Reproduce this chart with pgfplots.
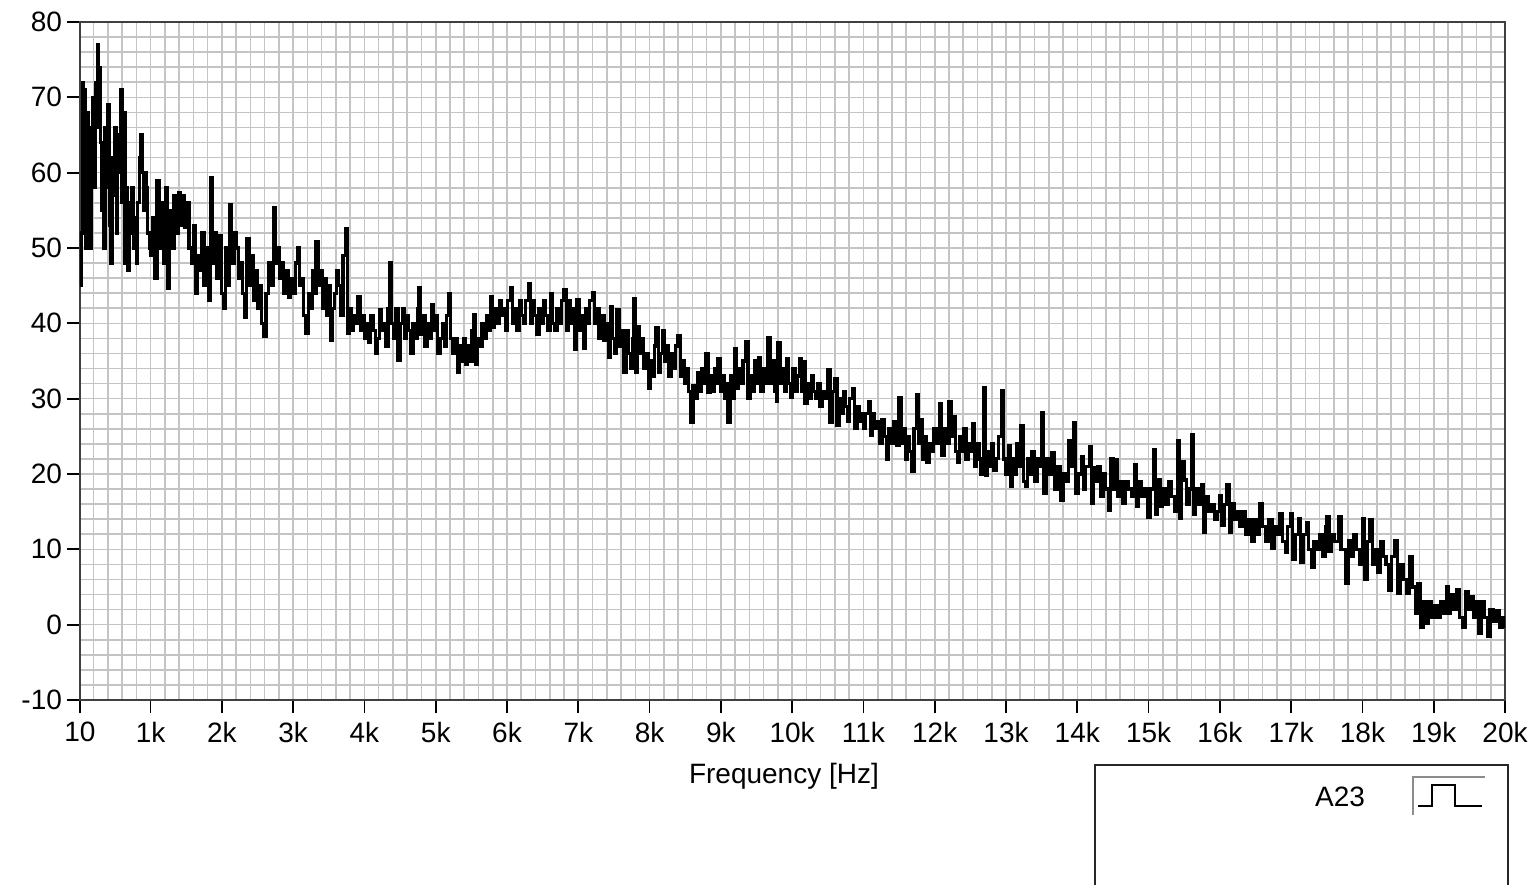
\documentclass[border=0pt]{standalone}
\usepackage{pgfplots}
\pgfplotsset{compat=1.18}
\usepackage{fontspec}
\setmainfont{Liberation Sans}
\definecolor{gridgray}{RGB}{196,196,196}
\begin{document}
\begin{tikzpicture}
\useasboundingbox (-40pt,-92pt) rectangle (727pt,350pt);
\begin{axis}[
  at={(0,0)}, anchor=south west,
  scale only axis, width=712.5pt, height=339pt,
  xmin=10, xmax=20000, ymin=-10, ymax=80,
  scaled x ticks=false,
  xtick={10,1000,2000,3000,4000,5000,6000,7000,8000,9000,10000,11000,12000,13000,14000,15000,16000,17000,18000,19000,20000},
  xticklabels={10,1k,2k,3k,4k,5k,6k,7k,8k,9k,10k,11k,12k,13k,14k,15k,16k,17k,18k,19k,20k},
  minor xtick={200,400,600,800,1200,1400,1600,1800,2200,2400,2600,2800,3200,3400,3600,3800,4200,4400,4600,4800,5200,5400,5600,5800,6200,6400,6600,6800,7200,7400,7600,7800,8200,8400,8600,8800,9200,9400,9600,9800,10200,10400,10600,10800,11200,11400,11600,11800,12200,12400,12600,12800,13200,13400,13600,13800,14200,14400,14600,14800,15200,15400,15600,15800,16200,16400,16600,16800,17200,17400,17600,17800,18200,18400,18600,18800,19200,19400,19600,19800},
  ytick={-10,0,10,20,30,40,50,60,70,80},
  yticklabels={-10,0,10,20,30,40,50,60,70,80},
  minor ytick={-8,-6,-4,-2,2,4,6,8,12,14,16,18,22,24,26,28,32,34,36,38,42,44,46,48,52,54,56,58,62,64,66,68,72,74,76,78},
  grid=both,
  major grid style={gridgray, line width=0.8pt},
  minor grid style={gridgray, line width=0.8pt},
  tick align=outside,
  major tick length=6.5pt,
  minor tick length=0pt,
  xtick pos=bottom, ytick pos=left,
  every tick/.style={draw=black, line width=0.9pt},
  axis line style={black!75, line width=0.9pt},
  xticklabel style={font=\fontsize{14}{16}\selectfont, yshift=-1pt},
  yticklabel style={font=\fontsize{14}{16}\selectfont, xshift=1pt},
  xlabel={Frequency [Hz]},
  xlabel style={font=\fontsize{14}{16}\selectfont, at={(axis description cs:0.494,0)}, anchor=center, yshift=-38pt},
]
\addplot[black, line width=1.6pt, const plot, line join=miter, miter limit=2] coordinates {
(10,45) (25,52) (40,72) (55,60) (70,71) (90,50) (110,68) (130,56) (150,50) (170,66)
(190,70) (210,58) (230,72) (250,77) (265,66) (280,74) (300,64) (320,55) (340,50) (360,66)
(380,58) (400,69) (420,53) (440,48) (460,62) (480,57) (500,66) (520,52) (540,65) (560,60)
(580,71) (600,56) (620,68) (640,48) (660,58) (680,47) (700,56) (720,52) (740,58) (760,50)
(780,54) (800,48) (820,56) (840,62) (860,65) (880,60) (900,55) (920,60) (940,58) (960,52)
(980,50) (1000,49)
(1030,54) (1060,46) (1090,59) (1120,50) (1150,56) (1180,48) (1210,58) (1240,44.7) (1270,55) (1300,50)
(1330,57) (1360,52) (1390,57.3) (1420,53) (1450,57) (1480,52.8) (1510,56) (1540,50) (1570,48) (1600,53)
(1630,44) (1660,49) (1690,47) (1720,52) (1750,45) (1780,50) (1810,43) (1840,59.3) (1870,48) (1900,52)
(1930,46) (1960,51.6) (1990,44) (2020,42)
(2050,50) (2080,45) (2110,55.7) (2140,48) (2170,52) (2200,50) (2230,46) (2260,48) (2290,44) (2320,40.8)
(2350,51.3) (2380,45) (2410,49) (2440,43) (2470,47) (2500,42) (2530,45) (2560,40) (2590,38.2) (2620,44)
(2650,48) (2680,45) (2720,55.4) (2750,48) (2780,50) (2810,46) (2840,48) (2870,44) (2900,47) (2930,43.5)
(2960,46) (2990,44)
(3030,48) (3060,50.1) (3090,45) (3120,46) (3150,41) (3180,38.7) (3210,44) (3240,42) (3270,47) (3300,44)
(3320,50.8) (3350,45) (3380,47) (3410,42) (3440,46) (3470,41) (3500,45) (3520,37.8) (3550,42) (3580,44)
(3610,47) (3640,45) (3670,41) (3700,49) (3730,52.6) (3760,38.7) (3790,42) (3820,39) (3850,41) (3880,40)
(3910,43.5) (3940,39) (3970,41) (4000,38)
(4030,40) (4060,37.5) (4090,41) (4120,39) (4150,36) (4180,38) (4210,41.8) (4240,39) (4270,40) (4300,37)
(4330,42) (4350,48) (4380,40) (4410,38) (4440,42) (4470,35.1) (4500,40) (4530,42) (4560,38) (4590,41)
(4620,39) (4650,36) (4680,40) (4710,38) (4740,42) (4760,44.7) (4790,38.5) (4820,41) (4850,37) (4880,40)
(4910,38) (4940,42.5) (4970,39) (5000,41)
(5030,36) (5060,38) (5090,40) (5120,37) (5150,41) (5180,44) (5210,38) (5240,36) (5270,38) (5300,33.5)
(5330,37) (5360,35) (5390,38) (5420,34.5) (5450,37) (5480,35) (5510,39) (5530,41.1) (5560,34.5) (5590,38)
(5620,37) (5650,40) (5680,38) (5710,41) (5740,39) (5770,43.5) (5800,39.5) (5830,42) (5860,40) (5890,43)
(5920,41) (5950,42) (5980,39) (6010,43)
(6050,44.7) (6080,40) (6110,42) (6140,39) (6170,43) (6200,41) (6230,40) (6260,43) (6300,45.3) (6330,40)
(6360,43) (6390,41) (6420,38.5) (6450,42) (6480,40) (6510,43) (6540,41) (6570,39) (6610,44) (6640,40)
(6670,39) (6700,42) (6730,40) (6760,43) (6800,44.5) (6830,39.1) (6860,43) (6890,40) (6920,42) (6950,36.5)
(6980,43.1)
(7010,39) (7040,41) (7070,36.7) (7100,42) (7130,40) (7160,43) (7200,44.1) (7230,40) (7260,42) (7290,38)
(7320,41) (7360,37.8) (7390,40) (7420,35.5) (7450,42.2) (7480,38) (7510,36) (7540,41.8) (7570,37) (7600,39)
(7640,33.5) (7670,39) (7700,36) (7730,34) (7760,38) (7780,43.3) (7800,33.5) (7830,39.6) (7860,36) (7890,38)
(7920,34) (7950,36) (7980,31.4) (8010,35)
(8040,33) (8070,37) (8090,39.5) (8120,33.5) (8150,36) (8180,39) (8210,35) (8240,37) (8270,33) (8300,36)
(8330,34) (8360,37) (8400,38.4) (8430,33) (8460,35) (8490,32) (8520,34) (8550,31) (8580,26.8) (8610,31.8)
(8640,30) (8670,33.5) (8700,31) (8730,34) (8760,32) (8790,36) (8820,30.8) (8850,33) (8880,31) (8910,34)
(8940,32) (8960,35.3) (8990,31)
(9020,33) (9050,30) (9080,32) (9100,26.8) (9130,33) (9160,30) (9190,36.7) (9220,31.4) (9250,34) (9280,32)
(9310,35) (9350,37.6) (9380,30) (9410,33) (9440,31) (9470,35) (9500,32) (9530,35.5) (9560,31) (9590,34)
(9620,32) (9660,38.1) (9690,32) (9720,35) (9750,31) (9780,29.6) (9800,37.4) (9830,32) (9860,34) (9890,31)
(9920,35.3) (9950,32) (9980,30.2)
(10010,34) (10040,31) (10070,33) (10100,35.3) (10130,31) (10150,34.9) (10180,29.4) (10210,32) (10240,30) (10270,33.1)
(10300,31) (10330,30) (10360,32) (10390,29) (10420,31) (10460,30) (10500,33.8) (10530,26.8) (10560,31) (10600,32.7)
(10630,26.4) (10660,30) (10690,28) (10720,31) (10750,29) (10780,27) (10810,30) (10850,31.4) (10880,26) (10910,29)
(10940,27) (10970,28) (11000,26)
(11030,28) (11070,29.6) (11100,25.1) (11130,28) (11160,26) (11190,27) (11220,24) (11260,27.2) (11290,25) (11320,21.9)
(11350,26) (11380,24) (11420,27) (11460,23.8) (11500,30.1) (11530,24) (11560,26) (11590,22) (11620,25) (11650,23)
(11680,20.3) (11710,26) (11740,30.5) (11770,24) (11800,27.2) (11830,22) (11860,25) (11890,21.6) (11920,24) (11950,23)
(11980,26)
(12020,24) (12070,29.4) (12100,22.5) (12130,26) (12160,24) (12200,29.6) (12230,25) (12260,27.6) (12290,23) (12320,21.6)
(12350,25) (12380,23) (12410,26) (12440,22) (12470,24) (12500,23) (12530,26.7) (12560,21) (12590,24) (12620,22)
(12650,20) (12680,31.5) (12710,19.8) (12740,23) (12770,21) (12800,24) (12830,20.5) (12860,22.1) (12900,25) (12940,31.1)
(12970,22) (13000,20)
(13030,23.8) (13060,18.3) (13090,22) (13120,20) (13150,24) (13180,21) (13210,26.4) (13240,19) (13270,18.3) (13300,22)
(13330,20) (13360,23) (13400,19) (13440,22) (13480,21) (13500,28.2) (13530,17.4) (13560,22) (13600,20) (13640,22.9)
(13680,18) (13720,21) (13760,16.5) (13800,20) (13840,19) (13880,24.5) (13920,21) (13950,26.8) (13980,17.4) (14010,20)
(14060,22.3) (14090,18) (14120,21) (14170,23.6) (14200,16.1) (14230,20.9) (14260,19) (14290,21) (14320,17) (14360,20)
(14400,18) (14440,15.2) (14470,22) (14500,18) (14530,21.9) (14560,17) (14600,19) (14640,16.1) (14680,19) (14720,18)
(14760,17) (14800,21.2) (14830,15.7) (14860,19) (14900,17) (14940,18) (14980,14.3) (15020,18)
(15070,23.2) (15100,14.7) (15130,19.2) (15160,15.7) (15200,18) (15240,16) (15280,19) (15320,17) (15360,15) (15400,24.5)
(15430,14.1) (15460,21.7) (15500,19.2) (15530,16) (15570,18) (15600,25.2) (15630,14.6) (15660,18) (15700,16) (15740,18.6)
(15770,12.3) (15800,17) (15840,15) (15880,16) (15920,14) (15960,15) (15990,17.1) (16020,13.2)
(16060,16) (16100,18.6) (16130,12.3) (16160,16.1) (16200,14) (16240,15) (16280,13) (16320,15) (16360,12) (16400,14)
(16450,11) (16480,14) (16520,12) (16560,16.1) (16600,13) (16640,11) (16680,14) (16730,10.1) (16760,13) (16800,12)
(16840,14.7) (16880,11) (16920,9.6) (16950,13) (16990,14.8)
(17020,8.6) (17060,12) (17100,14.1) (17130,8.2) (17170,12) (17210,13.6) (17240,10) (17280,7.6) (17320,11) (17360,10)
(17400,12) (17440,9) (17480,13) (17500,14.4) (17530,9.7) (17570,12) (17610,11) (17660,14.4) (17700,10) (17760,5.5)
(17800,11.1) (17840,9) (17880,12) (17920,10) (17960,8) (18000,14.1)
(18030,6) (18070,11) (18100,13.9) (18140,8) (18180,10) (18210,6.9) (18250,11) (18290,9) (18330,8) (18370,4.6)
(18410,9) (18450,11.1) (18490,4.2) (18530,8) (18580,6) (18620,4.2) (18660,9.1) (18700,5) (18740,1.5) (18780,5.5)
(18810,-0.3) (18850,3) (18890,0.2) (18930,3) (18970,1) (19010,2.5)
(19050,1) (19090,3) (19130,1.5) (19180,5) (19200,1.5) (19240,4) (19280,2) (19320,4.6) (19360,1) (19400,-0.3)
(19440,4.4) (19480,2) (19520,3.7) (19560,1) (19600,3) (19630,-1.2) (19670,3) (19710,1) (19750,-1.6) (19790,2)
(19830,0.5) (19880,1.9) (19920,-0.3) (19960,1) (20000,-0.5)
};
\end{axis}
% legend box
\draw[black!85, line width=0.9pt] (507.5pt,-96pt) -- (507.5pt,-32.5pt) -- (714pt,-32.5pt) -- (714pt,-96pt);
\node[font=\fontsize{14}{16}\selectfont] at (630pt,-48.5pt) {A23};
\draw[black!45, line width=0.7pt] (666.5pt,-57.5pt) -- (666.5pt,-38.5pt) -- (702.5pt,-38.5pt);
\draw[black, line width=0.9pt] (669pt,-53pt) -- (676pt,-53pt) -- (676pt,-42.5pt) -- (687.5pt,-42.5pt) -- (687.5pt,-53pt) -- (701pt,-53pt);
\end{tikzpicture}
\end{document}
